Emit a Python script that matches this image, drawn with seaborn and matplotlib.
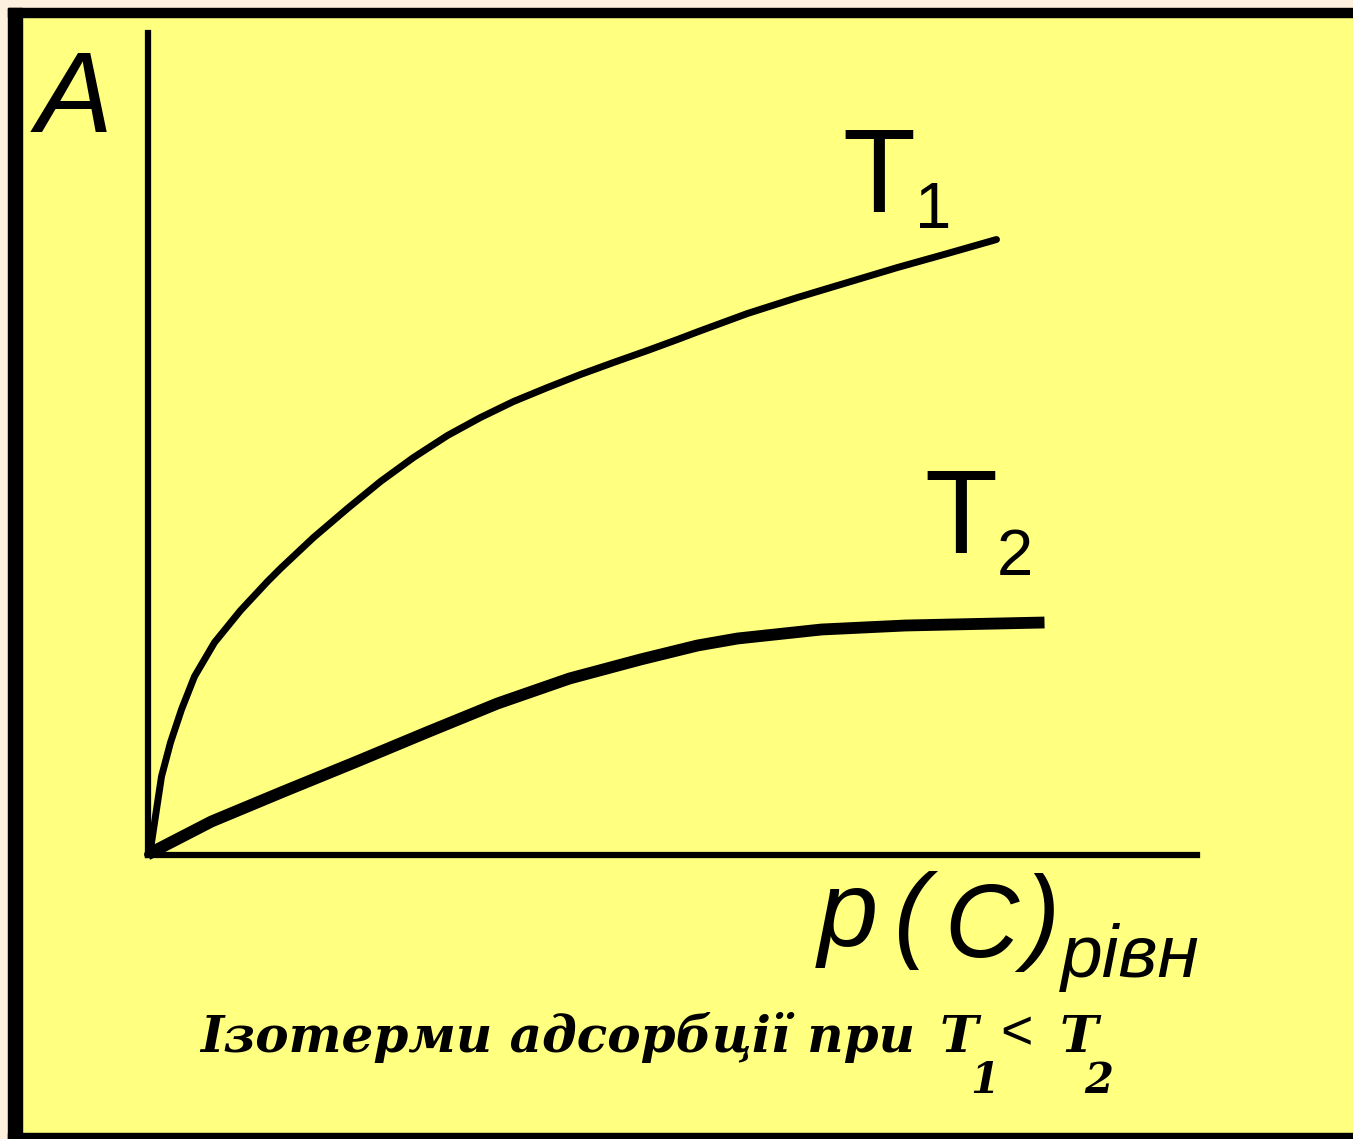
import numpy as np
import pandas as pd
import matplotlib
matplotlib.use("Agg")
import matplotlib.pyplot as plt
from matplotlib.patches import Rectangle
import seaborn as sns

# isotherm readings (arbitrary units)
conc_t1 = [0, 0.03, 0.09, 0.14, 0.23, 0.34, 0.47, 0.67, 0.93, 1.20, 1.33, 1.66,
           2.00, 2.33, 2.66, 3.00, 3.33, 3.66, 4.00, 4.33, 4.66, 5.00, 5.30,
           5.51, 6.00, 6.50, 7.00, 7.50, 8.00, 8.49]
ads_t1 = [0, 0.05, 0.45, 0.78, 1.12, 1.45, 1.78, 2.12, 2.44, 2.73, 2.86, 3.17,
          3.46, 3.73, 3.97, 4.19, 4.37, 4.53, 4.67, 4.80, 4.92, 5.04, 5.15,
          5.23, 5.41, 5.57, 5.72, 5.87, 6.01, 6.15]
conc_t2 = [0, 0.64, 1.36, 2.07, 2.79, 3.50, 4.22, 4.93, 5.50, 5.90, 6.74, 7.58, 8.97]
ads_t2 = [0, 0.33, 0.63, 0.92, 1.22, 1.51, 1.76, 1.95, 2.09, 2.16, 2.25, 2.29, 2.32]

W, H = 1353, 1139
YELLOW = "#ffff80"
CREAM = "#fdf0dc"

sns.set_theme(style="white")
plt.rcParams["font.family"] = ["Liberation Sans", "DejaVu Sans"]
plt.rcParams["text.color"] = "black"

fig = plt.figure(figsize=(W / 100, H / 100), dpi=100)
fig.patch.set_facecolor(YELLOW)


def fx(px):
    return px / W


def fy(py):
    return 1 - py / H


# frame: cream strip + black border
tf = fig.transFigure
fig.patches.append(Rectangle((0, fy(8)), 1, 8 / H, transform=tf, color=CREAM, zorder=0))
fig.patches.append(Rectangle((0, 0), 8 / W, 1, transform=tf, color=CREAM, zorder=0))
fig.patches.append(Rectangle((fx(8), fy(17)), 1, 9 / H, transform=tf, color="black", zorder=1))
fig.patches.append(Rectangle((fx(8), 0), 14 / W, fy(8), transform=tf, color="black", zorder=1))
fig.patches.append(Rectangle((fx(8), 0), 1, 6 / H, transform=tf, color="black", zorder=1))

ax = fig.add_axes([fx(147.5), fy(854.5), (1197 - 147.5) / W, (854.5 - 33) / H])
ax.set_facecolor("none")

df1 = pd.DataFrame({"c": conc_t1, "a": ads_t1})
df2 = pd.DataFrame({"c": conc_t2, "a": ads_t2})
sns.lineplot(data=df1, x="c", y="a", ax=ax, color="black", linewidth=5,
             sort=False, estimator=None, clip_on=False, solid_joinstyle="round")
sns.lineplot(data=df2, x="c", y="a", ax=ax, color="black", linewidth=8.5,
             sort=False, estimator=None, clip_on=False, solid_capstyle="butt",
             solid_joinstyle="round")

ax.set_xlim(0, 10.495)
ax.set_ylim(0, 8.215)
ax.set_xticks([])
ax.set_yticks([])
ax.set_xlabel("")
ax.set_ylabel("")
for s in ["top", "right"]:
    ax.spines[s].set_visible(False)
for s in ["left", "bottom"]:
    ax.spines[s].set_color("black")
    ax.spines[s].set_linewidth(4.5)

sans = "Liberation Sans"
fig.text(fx(36), fy(132), "A", fontsize=83, style="italic", family=sans, va="baseline")
fig.text(fx(842), fy(212), "T", fontsize=86, family=sans, va="baseline")
fig.text(fx(915), fy(228), "1", fontsize=47, family=sans, va="baseline")
fig.text(fx(924), fy(553), "T", fontsize=86, family=sans, va="baseline")
fig.text(fx(997), fy(575), "2", fontsize=47, family=sans, va="baseline")

# p(C) with subscript
fig.text(fx(818), fy(946), "p", fontsize=78, style="italic", family=sans, va="baseline")
fig.text(fx(893), fy(948), "(", fontsize=76, style="italic", family=sans, va="baseline")
fig.text(fx(944), fy(957), "C", fontsize=74, style="italic", family=sans, va="baseline")
fig.text(fx(1024), fy(950), ")", fontsize=76, style="italic", family=sans, va="baseline")
fig.text(fx(1061), fy(977), "рівн", fontsize=54, style="italic", family=sans, va="baseline")

serif = "DejaVu Serif"
cap = dict(weight="bold", style="italic", family=serif, va="baseline")
fig.text(fx(200), fy(1052), "Ізотерми адсорбції при", fontsize=36, **cap)
fig.text(fx(940), fy(1052), "T", fontsize=37, **cap)
fig.text(fx(970), fy(1093), "1", fontsize=30, **cap)
fig.text(fx(1000), fy(1049), "<", fontsize=40, family=sans, va="baseline")
fig.text(fx(1060), fy(1052), "T", fontsize=37, **cap)
fig.text(fx(1084), fy(1093), "2", fontsize=30, **cap)

fig.savefig("out.png", dpi=100, facecolor=fig.get_facecolor())
